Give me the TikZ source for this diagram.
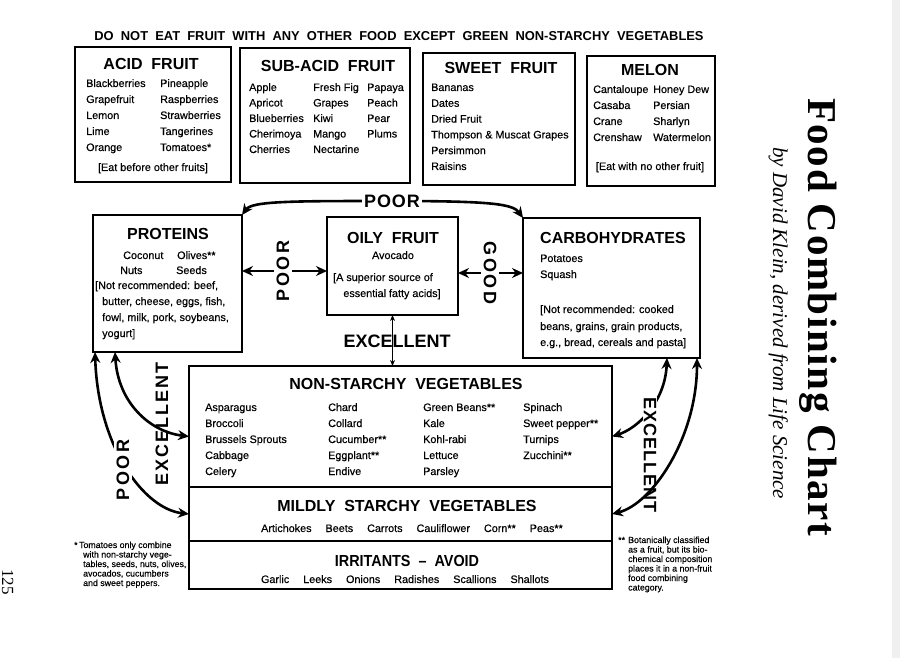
\documentclass[tikz,border=0pt]{standalone}
\usepackage{fontspec}
\setmainfont{Liberation Sans}
\newfontfamily\itf[FakeBold=0.4]{Liberation Sans}
\newfontfamily\lblA[LetterSpace=15]{Liberation Sans}
\newfontfamily\lblB[LetterSpace=5]{Liberation Sans}
\newfontfamily\lblC[LetterSpace=11]{Liberation Sans}
\newfontfamily\ttlfont[LetterSpace=4]{Liberation Serif}
\newfontfamily\subfont{Liberation Serif}
\usetikzlibrary{arrows.meta}
\begin{document}
\begin{tikzpicture}[x=1pt,y=-1pt,
  box/.style={draw,line width=2.2pt,inner sep=0pt,outer sep=0pt,anchor=north west},
  itm/.style={anchor=base west,inner sep=0pt,font=\itf\fontsize{10.8}{13}\selectfont},
  itmc/.style={anchor=base,inner sep=0pt,font=\itf\fontsize{10.8}{13}\selectfont},
  hd/.style={anchor=base,inner sep=0pt,font=\bfseries\fontsize{16}{18}\selectfont},
  fn/.style={anchor=base west,inner sep=0pt,font=\itf\fontsize{8.8}{10}\selectfont},
  lbl/.style={inner sep=2.5pt,fill=white},
  arr/.style={line width=2.6pt,{Stealth[length=11pt,width=10pt]}-{Stealth[length=11pt,width=10pt]}},
  tarr/.style={line width=1.2pt,{Stealth[length=6pt,width=5pt]}-{Stealth[length=6pt,width=5pt]}}
]
\useasboundingbox (0,0) rectangle (900,658);
\fill[white] (0,0) rectangle (900,658);
\fill[gray!12] (892,0) rectangle (900,658);

% top header
\node[hd,font=\bfseries\fontsize{12.9}{14}\selectfont] (top) at (399,41) {DO~~NOT~~EAT~~FRUIT~~WITH~~ANY~~OTHER~~FOOD~~EXCEPT~~GREEN~~NON-STARCHY~~VEGETABLES};

% boxes
\node[box,minimum width=156pt,minimum height=135pt] (acid) at (75,47) {};
\node[box,minimum width=170pt,minimum height=135pt] (subacid) at (240,48) {};
\node[box,minimum width=152pt,minimum height=132pt] (sweet) at (423,53) {};
\node[box,minimum width=128pt,minimum height=130pt] (melon) at (587,56) {};
\node[box,minimum width=149pt,minimum height=137pt] (prot) at (93,215) {};
\node[box,minimum width=131pt,minimum height=98pt] (oily) at (327,217) {};
\node[box,minimum width=177pt,minimum height=140pt] (carb) at (523,218) {};
\node[box,minimum width=423pt,minimum height=121pt] (nonst) at (189,366) {};
\node[box,minimum width=423pt,minimum height=54pt] (mild) at (189,487) {};
\node[box,minimum width=423pt,minimum height=48pt] (irr) at (189,541) {};

% acid fruit
\node[hd] (acidh) at (151,70) {ACID~~FRUIT};
\foreach \t [count=\i from 0] in {Blackberries,Grapefruit,Lemon,Lime,Orange}
  \node[itm] (acA\i) at (86,87+16*\i) {\t};
\foreach \t [count=\i from 0] in {Pineapple,Raspberries,Strawberries,Tangerines,Tomatoes*}
  \node[itm] (acB\i) at (160,87+16*\i) {\t};
\node[itmc] (acN) at (153,171) {[Eat before other fruits]};

% sub-acid fruit
\node[hd] (subh) at (328,72) {SUB-ACID~~FRUIT};
\foreach \t [count=\i from 0] in {Apple,Apricot,Blueberries,Cherimoya,Cherries}
  \node[itm] (saA\i) at (249,91+15.5*\i) {\t};
\foreach \t [count=\i from 0] in {Fresh Fig,Grapes,Kiwi,Mango,Nectarine}
  \node[itm] (saB\i) at (313,91+15.5*\i) {\t};
\foreach \t [count=\i from 0] in {Papaya,Peach,Pear,Plums}
  \node[itm] (saC\i) at (367,91+15.5*\i) {\t};

% sweet fruit
\node[hd] (sweeth) at (501,74) {SWEET~~FRUIT};
\foreach \t [count=\i from 0] in {Bananas,Dates,Dried Fruit,Thompson \& Muscat Grapes,Persimmon,Raisins}
  \node[itm] (swA\i) at (431,91+15.8*\i) {\t};

% melon
\node[hd] (melh) at (650,76) {MELON};
\foreach \t [count=\i from 0] in {Cantaloupe,Casaba,Crane,Crenshaw}
  \node[itm] (meA\i) at (593,93+16*\i) {\t};
\foreach \t [count=\i from 0] in {Honey Dew,Persian,Sharlyn,Watermelon}
  \node[itm] (meB\i) at (653,93+16*\i) {\t};
\node[itmc] (meN) at (650,170) {[Eat with no other fruit]};

% proteins
\node[hd] (proth) at (168,239) {PROTEINS};
\node[itm] (pr1) at (123,259) {Coconut};
\node[itm] (pr2) at (177,259) {Olives**};
\node[itm] (pr3) at (120,274) {Nuts};
\node[itm] (pr4) at (176,274) {Seeds};
\node[itm] (pr5) at (95,289) {[Not recommended: beef,};
\node[itm] (pr6) at (102,305) {butter, cheese, eggs, fish,};
\node[itm] (pr7) at (102,321) {fowl, milk, pork, soybeans,};
\node[itm] (pr8) at (102,337) {yogurt]};

% oily fruit
\node[hd] (oilyh) at (393,243) {OILY~~FRUIT};
\node[itmc] (oi1) at (393,259) {Avocado};
\node[itmc] (oi2) at (383,281) {[A superior source of};
\node[itmc] (oi3) at (392,297) {essential fatty acids]};

% carbohydrates
\node[hd,anchor=base west] (carbh) at (540,243) {CARBOHYDRATES};
\node[itm] (ca1) at (540,262) {Potatoes};
\node[itm] (ca2) at (540,278) {Squash};
\node[itm] (ca3) at (540,313) {[Not recommended: cooked};
\node[itm] (ca4) at (540,330) {beans, grains, grain products,};
\node[itm] (ca5) at (540,346) {e.g., bread, cereals and pasta]};

% non-starchy vegetables
\node[hd] (nsh) at (406,389) {NON-STARCHY~~VEGETABLES};
\foreach \t [count=\i from 0] in {Asparagus,Broccoli,Brussels Sprouts,Cabbage,Celery}
  \node[itm] (nsA\i) at (205,411+16*\i) {\t};
\foreach \t [count=\i from 0] in {Chard,Collard,Cucumber**,Eggplant**,Endive}
  \node[itm] (nsB\i) at (328,411+16*\i) {\t};
\foreach \t [count=\i from 0] in {Green Beans**,Kale,Kohl-rabi,Lettuce,Parsley}
  \node[itm] (nsC\i) at (423,411+16*\i) {\t};
\foreach \t [count=\i from 0] in {Spinach,Sweet pepper**,Turnips,Zucchini**}
  \node[itm] (nsD\i) at (523,411+16*\i) {\t};

% mildly starchy
\node[hd] (mildh) at (407,511) {MILDLY~~STARCHY~~VEGETABLES};
\node[itmc] (mildi) at (412,532) {Artichokes\hspace{14pt}Beets\hspace{14pt}Carrots\hspace{14pt}Cauliflower\hspace{14pt}Corn**\hspace{14pt}Peas**};

% irritants
\node[hd] (irrh) at (407,566) {\scalebox{0.9}[1]{IRRITANTS~~–~~AVOID}};
\node[itmc] (irri) at (405,583) {Garlic\hspace{14pt}Leeks\hspace{14pt}Onions\hspace{14pt}Radishes\hspace{14pt}Scallions\hspace{14pt}Shallots};

% ---- connectors ----
\coordinate (cpoor1) at (392,201);
\coordinate (cpoor2) at (283,271);
\coordinate (cgood) at (490,273);

\draw[arr] (prot.north east) .. controls +(10,-14) and +(-100,0) .. (cpoor1) .. controls +(100,0) and +(-10,-14) .. (carb.north west);
\node[lbl,font=\lblB\bfseries\fontsize{18}{20}\selectfont] (poor1) at (cpoor1) {POOR};

\draw[arr] (prot.east |- cpoor2) -- (oily.west |- cpoor2);
\node[lbl,rotate=90,font=\lblA\bfseries\fontsize{18}{20}\selectfont] (poor2) at (cpoor2) {POOR};

\draw[arr] (oily.east |- cgood) -- (carb.west |- cgood);
\node[lbl,rotate=-90,font=\lblA\bfseries\fontsize{18}{20}\selectfont] (good) at (cgood) {GOOD};

\draw[tarr] (oily.south) -- (oily.south |- nonst.north);
\node[inner sep=0pt,font=\bfseries\fontsize{18}{20}\selectfont] (excM) at (397,341) {EXCELLENT};

% left curves
\draw[arr] ([xshift=2pt]prot.south west) .. controls +(3,95) and +(-45,-5) .. (mild.west);
\node[lbl,rotate=90,font=\lblA\bfseries\fontsize{18}{20}\selectfont] (poorL) at (123,470) {POOR};
\node[lbl,inner sep=0.5pt,rotate=90,font=\lblC\bfseries\fontsize{18}{20}\selectfont] (excL) at (162,424) {EXCELLENT};
\draw[arr] ([xshift=22pt]prot.south west) .. controls +(3,50) and +(-40,-5) .. ([yshift=-10pt]nonst.west);

% right curves
\draw[arr] ([xshift=-33pt]carb.south east) .. controls +(-2,45) and +(25,-8) .. ([yshift=-10pt]nonst.east);
\node[lbl,inner sep=1pt,rotate=-90,font=\lblB\bfseries\fontsize{18}{20}\selectfont] (excR) at (650,455) {EXCELLENT};
\draw[arr] ([xshift=-3pt]carb.south east) .. controls +(0,80) and +(40,-10) .. (mild.east);

% footnotes
\node[fn] (fl1) at (74,548) {*\,Tomatoes only combine};
\node[fn] (fl2) at (83,557.5) {with non-starchy vege-};
\node[fn] (fl3) at (83,567) {tables, seeds, nuts, olives,};
\node[fn] (fl4) at (83,576.5) {avocados, cucumbers};
\node[fn] (fl5) at (83,586) {and sweet peppers.};

\node[fn] (fr0) at (618,543) {**};
\node[fn] (fr1) at (628,543) {Botanically classified};
\node[fn] (fr2) at (628,552.5) {as a fruit, but its bio-};
\node[fn] (fr3) at (628,562) {chemical composition};
\node[fn] (fr4) at (628,571.5) {places it in a non-fruit};
\node[fn] (fr5) at (628,581) {food combining};
\node[fn] (fr6) at (628,590.5) {category.};

% title
\node[anchor=base west,rotate=-90,inner sep=0pt,font=\ttlfont\bfseries\fontsize{41}{44}\selectfont] (title) at (808,98) {Food Combining Chart};
\node[anchor=base west,rotate=-90,inner sep=0pt,font=\subfont\itshape\fontsize{21}{24}\selectfont] (subtitle) at (773,147) {by David Klein, derived from Life Science};
\node[anchor=base west,rotate=-90,inner sep=0pt,font=\subfont\fontsize{17}{20}\selectfont] (page) at (2,569) {125};
\end{tikzpicture}
\end{document}
